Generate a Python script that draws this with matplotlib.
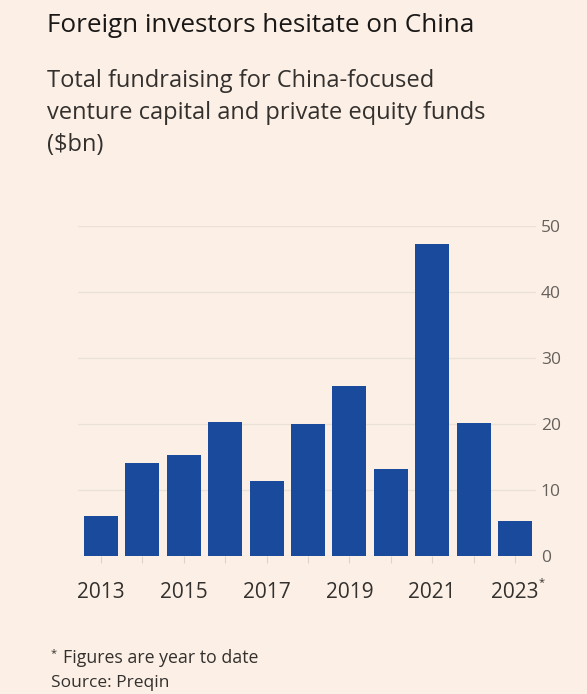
import numpy as np
import matplotlib
matplotlib.use("Agg")
import matplotlib.pyplot as plt

# Chart data
years = [2013, 2014, 2015, 2016, 2017, 2018, 2019, 2020, 2021, 2022, 2023]
funds = [6.0, 14.1, 15.3, 20.3, 11.4, 20.0, 25.8, 13.2, 47.3, 20.2, 5.3]
xtickYears = [2013, 2015, 2017, 2019, 2021, 2023]
xtickLabels = ["2013", "2015", "2017", "2019", "2021", "2023"]
yticks = [0, 10, 20, 30, 40, 50]

title = "Foreign investors hesitate on China"
subtitle = ["Total fundraising for China-focused",
	"venture capital and private equity funds",
	"($bn)"]

bg = "#fcf0e6"
barColor = "#1a4a9c"
textColor = "#33302e"

plt.rcParams['font.family'] = ['Open Sans', 'DejaVu Sans']

W, H = 587, 694
fig = plt.figure(figsize=(W/100, H/100), dpi=100, facecolor=bg)
ax = fig.add_axes([78.2/W, 1-556/H, (535.7-78.2)/W, (556-226)/H])
ax.set_facecolor(bg)

ax.bar(years, funds, width=0.82, color=barColor, zorder=3)

ax.set_ylim(0, 50)
ax.set_xlim(2012.45, 2023.5)
ax.set_yticks(yticks)
ax.yaxis.tick_right()
ax.tick_params(axis='y', length=0, pad=3.6, labelsize=12.5, labelcolor="#66605c")
ax.grid(axis='y', color="#ebe1d7", linewidth=1, zorder=0)

ax.set_xticks(years)
ax.set_xticklabels(["" for y in years])
ax.tick_params(axis='x', length=5, color="#ddd3ca", width=0.8)
for y, lab in zip(xtickYears, xtickLabels):
	ax.text(y, -5.6, lab, ha='center', va='center', fontsize=15, color=textColor)
# asterisk on the last (year-to-date) label
ax.text(2023.58, -4.1, "*", ha='left', va='center', fontsize=8, color=textColor)

for s in ['top', 'right', 'left', 'bottom']:
	ax.spines[s].set_visible(False)

fig.text(47/W, 1-32/H, title, fontsize=18.8, color="#1a1817", va='baseline', ha='left')
for i, line in enumerate(subtitle):
	fig.text(47/W, 1-(87+32*i)/H, line, fontsize=17, color=textColor, va='baseline', ha='left')

fig.text(51/W, 1-654/H, "*", fontsize=8, color=textColor, va='center')
fig.text(63/W, 1-658/H, "Figures are year to date", fontsize=12.8, color=textColor, va='center')
fig.text(51/W, 1-683/H, "Source: Preqin", fontsize=12.5, color=textColor, va='center')

fig.savefig("out.png", dpi=100, facecolor=bg)
